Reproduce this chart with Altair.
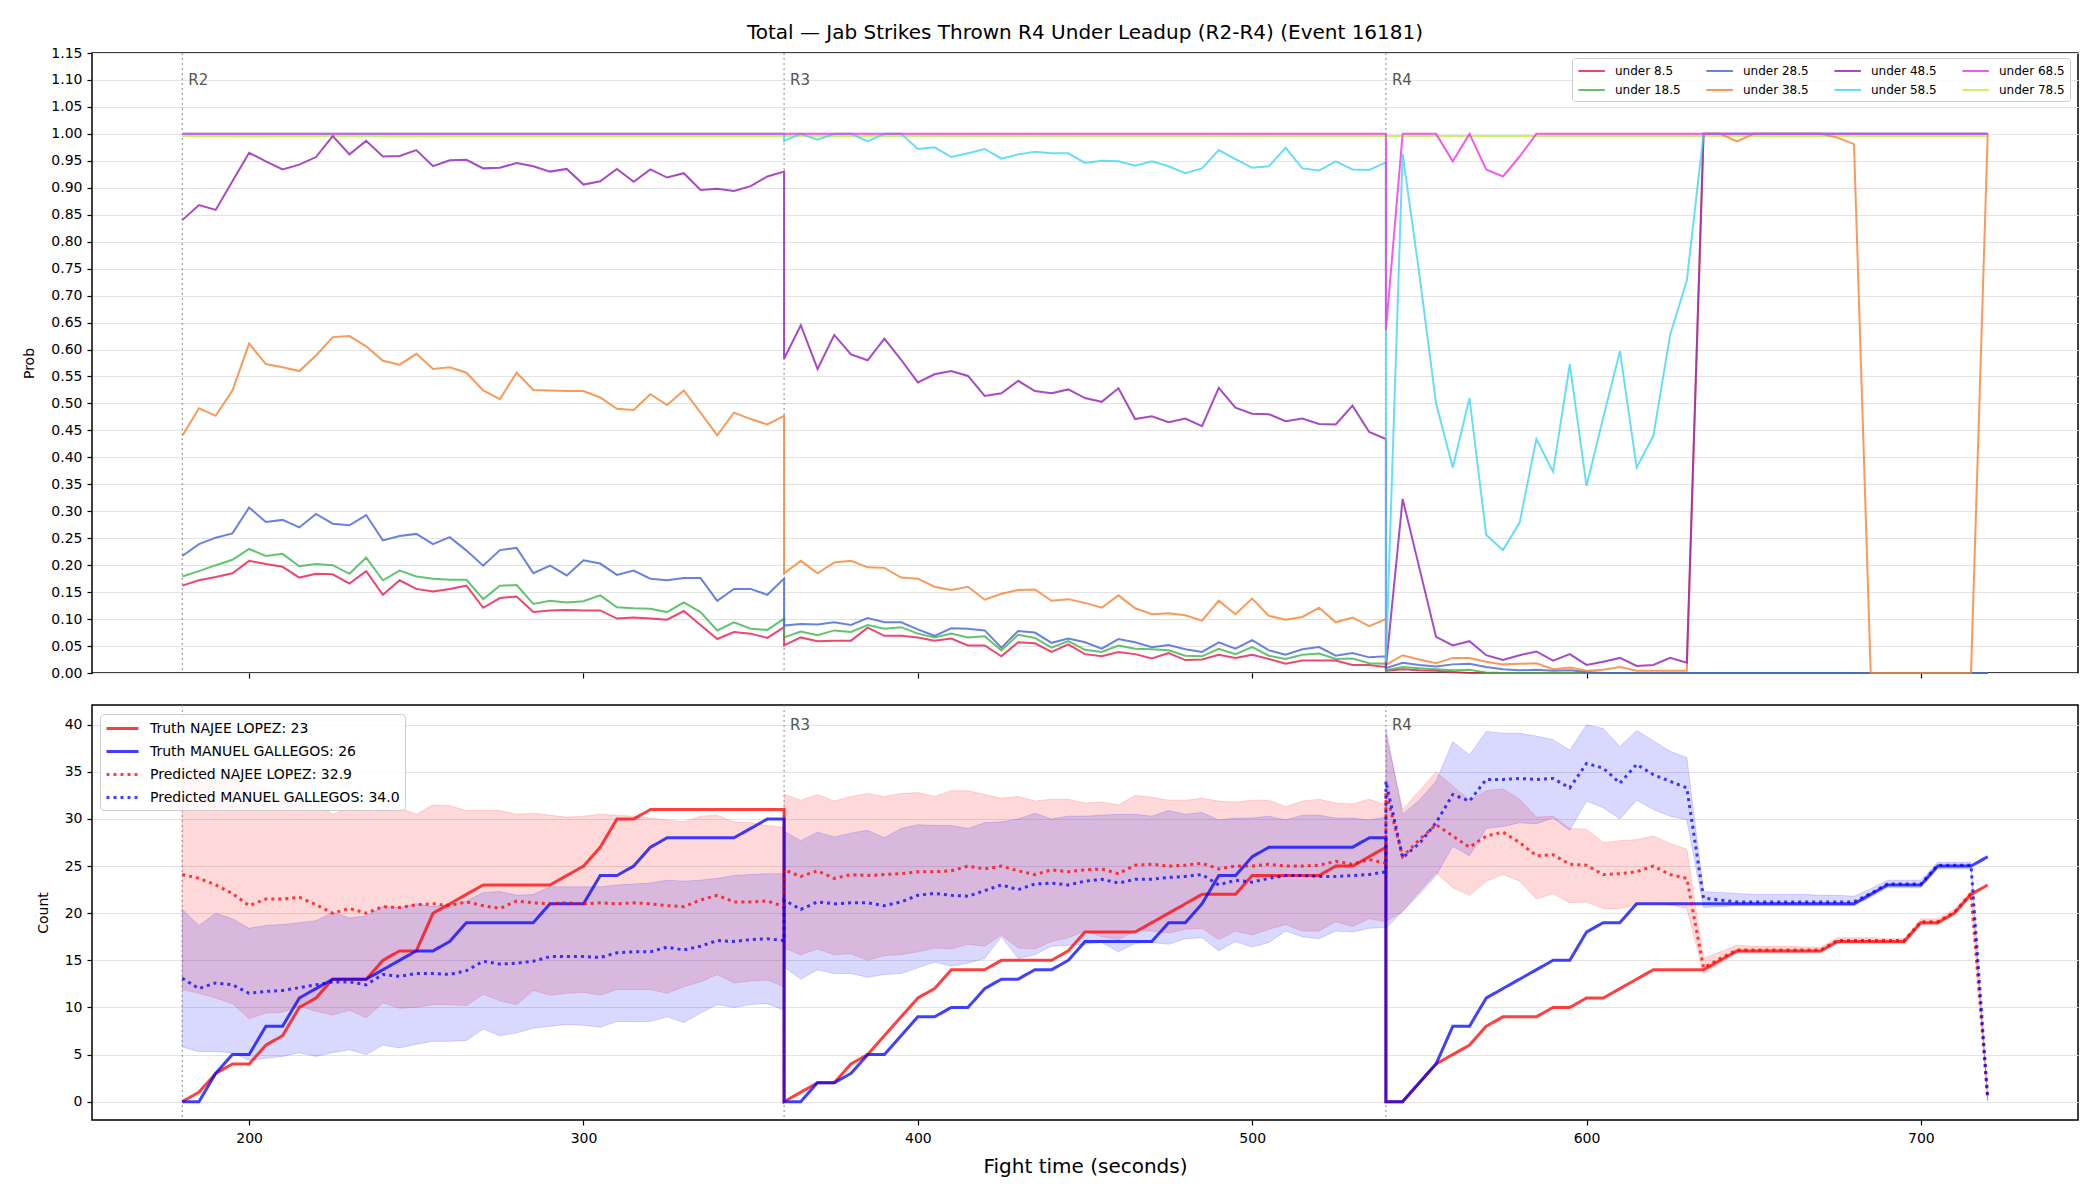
import altair as alt
import pandas as pd

# ---------------- sampling grid ----------------
OFFSETS = list(range(0, 185, 5))          # 37 samples per round (seconds into round)
ROUND_NAMES = ["R2", "R3", "R4"]
ROUND_STARTS = [180, 360, 540]
X_TICKS = [200, 300, 400, 500, 600, 700]
TOP_Y_TICKS = [0.0, 0.05, 0.10, 0.15, 0.20, 0.25, 0.30, 0.35, 0.40, 0.45, 0.50, 0.55,
               0.60, 0.65, 0.70, 0.75, 0.80, 0.85, 0.90, 0.95, 1.00, 1.05, 1.10, 1.15]
BOT_Y_TICKS = [0, 5, 10, 15, 20, 25, 30, 35, 40]

TITLE = "Total \u2014 Jab Strikes Thrown R4 Under Leadup (R2-R4) (Event 16181)"

# ---------------- top panel: probabilities ----------------
TOP_SERIES = ["under 8.5", "under 18.5", "under 28.5", "under 38.5",
              "under 48.5", "under 58.5", "under 68.5", "under 78.5"]
TOP_COLORS = ["#e6194b", "#3cb44b", "#4363d8", "#f58231",
              "#911eb4", "#42d4f4", "#f032e6", "#bfef45"]

U8_R2 = [0.162, 0.172, 0.178, 0.185, 0.208, 0.202, 0.197, 0.177, 0.184, 0.183,
         0.166, 0.189, 0.145, 0.172, 0.156, 0.151, 0.156, 0.162, 0.121, 0.139,
         0.142, 0.113, 0.116, 0.117, 0.116, 0.116, 0.101, 0.103, 0.101, 0.099,
         0.115, 0.089, 0.063, 0.076, 0.073, 0.065, 0.085]
U8_R3 = [0.051, 0.066, 0.059, 0.060, 0.060, 0.084, 0.069, 0.069, 0.066, 0.060,
         0.064, 0.051, 0.051, 0.031, 0.057, 0.055, 0.039, 0.053, 0.035, 0.031,
         0.039, 0.035, 0.027, 0.037, 0.024, 0.025, 0.034, 0.028, 0.034, 0.026,
         0.017, 0.023, 0.023, 0.023, 0.015, 0.015, 0.011]
U8_R4 = [0.004, 0.007, 0.005, 0.004, 0.002, 0.0, 0.0, 0.0, 0.0, 0.0,
         0.0, 0.0, 0.0, 0.0, 0.0, 0.0, 0.0, 0.0, 0.0, 0.0,
         0.0, 0.0, 0.0, 0.0, 0.0, 0.0, 0.0, 0.0, 0.0, 0.0,
         0.0, 0.0, 0.0, 0.0, 0.0, 0.0, 0.0]

U18_R2 = [0.179, 0.189, 0.200, 0.210, 0.230, 0.217, 0.221, 0.198, 0.202, 0.200,
          0.184, 0.214, 0.172, 0.190, 0.179, 0.175, 0.173, 0.173, 0.137, 0.162,
          0.163, 0.128, 0.134, 0.131, 0.133, 0.144, 0.122, 0.120, 0.119, 0.113,
          0.131, 0.113, 0.079, 0.094, 0.082, 0.080, 0.101]
U18_R3 = [0.066, 0.077, 0.070, 0.079, 0.076, 0.089, 0.082, 0.085, 0.073, 0.066,
          0.073, 0.066, 0.068, 0.042, 0.071, 0.065, 0.047, 0.059, 0.043, 0.039,
          0.051, 0.045, 0.044, 0.042, 0.032, 0.031, 0.045, 0.035, 0.048, 0.032,
          0.026, 0.034, 0.036, 0.026, 0.027, 0.018, 0.017]
U18_R4 = [0.005, 0.011, 0.009, 0.007, 0.005, 0.006, 0.001, 0.0, 0.0, 0.0,
          0.0, 0.0, 0.0, 0.0, 0.0, 0.0, 0.0, 0.0, 0.0, 0.0,
          0.0, 0.0, 0.0, 0.0, 0.0, 0.0, 0.0, 0.0, 0.0, 0.0,
          0.0, 0.0, 0.0, 0.0, 0.0, 0.0, 0.0]

U28_R2 = [0.217, 0.239, 0.251, 0.259, 0.307, 0.280, 0.284, 0.270, 0.295, 0.277,
          0.274, 0.293, 0.246, 0.254, 0.258, 0.239, 0.252, 0.227, 0.199, 0.228,
          0.232, 0.185, 0.199, 0.181, 0.209, 0.203, 0.182, 0.190, 0.175, 0.172,
          0.176, 0.176, 0.134, 0.156, 0.156, 0.145, 0.175]
U28_R3 = [0.088, 0.091, 0.090, 0.094, 0.089, 0.102, 0.094, 0.094, 0.081, 0.069,
          0.083, 0.082, 0.079, 0.047, 0.078, 0.075, 0.056, 0.064, 0.057, 0.045,
          0.063, 0.057, 0.048, 0.052, 0.044, 0.039, 0.057, 0.045, 0.061, 0.042,
          0.034, 0.044, 0.048, 0.032, 0.037, 0.029, 0.031]
U28_R4 = [0.009, 0.019, 0.015, 0.012, 0.016, 0.017, 0.011, 0.007, 0.005, 0.006,
          0.004, 0.005, 0.002, 0.0, 0.0, 0.0, 0.0, 0.0, 0.0, 0.0,
          0.0, 0.0, 0.0, 0.0, 0.0, 0.0, 0.0, 0.0, 0.0, 0.0,
          0.0, 0.0, 0.0, 0.0, 0.0, 0.0, 0.0]

U38_R2 = [0.440, 0.491, 0.477, 0.524, 0.611, 0.573, 0.567, 0.560, 0.589, 0.623,
          0.625, 0.606, 0.579, 0.572, 0.592, 0.564, 0.567, 0.557, 0.524, 0.508,
          0.557, 0.525, 0.524, 0.523, 0.523, 0.511, 0.490, 0.488, 0.517, 0.497,
          0.524, 0.483, 0.441, 0.483, 0.471, 0.461, 0.477]
U38_R3 = [0.185, 0.208, 0.185, 0.205, 0.208, 0.196, 0.195, 0.177, 0.175, 0.160,
          0.154, 0.160, 0.136, 0.147, 0.154, 0.155, 0.134, 0.137, 0.130, 0.121,
          0.144, 0.120, 0.109, 0.111, 0.107, 0.097, 0.134, 0.109, 0.138, 0.106,
          0.099, 0.104, 0.121, 0.094, 0.103, 0.087, 0.100]
U38_R4 = [0.015, 0.033, 0.025, 0.018, 0.028, 0.028, 0.021, 0.016, 0.017, 0.018,
          0.007, 0.010, 0.004, 0.006, 0.011, 0.004, 0.004, 0.004, 0.004, 1.0,
          1.0, 0.986, 1.0, 1.0, 1.0, 1.0, 1.0, 0.993, 0.981, 0.0,
          0.0, 0.0, 0.0, 0.0, 0.0, 0.0, 1.0]

U48_R2 = [0.840, 0.868, 0.859, 0.912, 0.965, 0.949, 0.934, 0.943, 0.957, 0.996,
          0.962, 0.987, 0.958, 0.959, 0.970, 0.940, 0.951, 0.952, 0.936, 0.937,
          0.946, 0.940, 0.930, 0.935, 0.906, 0.912, 0.935, 0.911, 0.934, 0.919,
          0.927, 0.896, 0.898, 0.894, 0.903, 0.921, 0.930]
U48_R3 = [0.583, 0.645, 0.564, 0.627, 0.591, 0.580, 0.620, 0.581, 0.539, 0.554,
          0.560, 0.551, 0.514, 0.519, 0.542, 0.523, 0.519, 0.526, 0.510, 0.503,
          0.528, 0.471, 0.476, 0.465, 0.472, 0.458, 0.529, 0.492, 0.481, 0.480,
          0.467, 0.472, 0.462, 0.461, 0.496, 0.447, 0.434]
U48_R4 = [0.010, 0.323, 0.195, 0.067, 0.051, 0.059, 0.033, 0.024, 0.033, 0.040,
          0.023, 0.035, 0.015, 0.021, 0.028, 0.013, 0.015, 0.028, 0.019, 1.0,
          1.0, 1.0, 1.0, 1.0, 1.0, 1.0, 1.0, 1.0, 1.0, 1.0,
          1.0, 1.0, 1.0, 1.0, 1.0, 1.0, 1.0]

U58_R2 = [1.0, 1.0, 1.0, 1.0, 1.0, 1.0, 1.0, 1.0, 1.0, 1.0,
          1.0, 1.0, 1.0, 1.0, 1.0, 1.0, 1.0, 1.0, 1.0, 1.0,
          1.0, 1.0, 1.0, 1.0, 1.0, 1.0, 1.0, 1.0, 1.0, 1.0,
          1.0, 1.0, 1.0, 1.0, 1.0, 1.0, 1.0]
U58_R3 = [0.987, 1.0, 0.989, 1.0, 1.0, 0.986, 1.0, 1.0, 0.972, 0.975,
          0.957, 0.964, 0.972, 0.954, 0.962, 0.967, 0.964, 0.964, 0.946, 0.950,
          0.949, 0.941, 0.949, 0.940, 0.927, 0.936, 0.970, 0.953, 0.937, 0.940,
          0.974, 0.936, 0.932, 0.949, 0.934, 0.933, 0.947]
U58_R4 = [0.020, 0.963, 0.740, 0.500, 0.381, 0.510, 0.256, 0.228, 0.279, 0.434,
          0.373, 0.573, 0.347, 0.474, 0.597, 0.381, 0.440, 0.627, 0.728, 1.0,
          1.0, 1.0, 1.0, 1.0, 1.0, 1.0, 1.0, 1.0, 1.0, 1.0,
          1.0, 1.0, 1.0, 1.0, 1.0, 1.0, 1.0]

U68_R2 = [1.0, 1.0, 1.0, 1.0, 1.0, 1.0, 1.0, 1.0, 1.0, 1.0,
          1.0, 1.0, 1.0, 1.0, 1.0, 1.0, 1.0, 1.0, 1.0, 1.0,
          1.0, 1.0, 1.0, 1.0, 1.0, 1.0, 1.0, 1.0, 1.0, 1.0,
          1.0, 1.0, 1.0, 1.0, 1.0, 1.0, 1.0]
U68_R3 = [1.0, 1.0, 1.0, 1.0, 1.0, 1.0, 1.0, 1.0, 1.0, 1.0,
          1.0, 1.0, 1.0, 1.0, 1.0, 1.0, 1.0, 1.0, 1.0, 1.0,
          1.0, 1.0, 1.0, 1.0, 1.0, 1.0, 1.0, 1.0, 1.0, 1.0,
          1.0, 1.0, 1.0, 1.0, 1.0, 1.0, 1.0]
U68_R4 = [0.636, 1.0, 1.0, 1.0, 0.949, 1.0, 0.934, 0.921, 0.958, 1.0,
          1.0, 1.0, 1.0, 1.0, 1.0, 1.0, 1.0, 1.0, 1.0, 1.0,
          1.0, 1.0, 1.0, 1.0, 1.0, 1.0, 1.0, 1.0, 1.0, 1.0,
          1.0, 1.0, 1.0, 1.0, 1.0, 1.0, 1.0]

U78_R2 = [0.996, 0.996, 0.996, 0.996, 0.996, 0.996, 0.996, 0.996, 0.996, 0.996,
          0.996, 0.996, 0.996, 0.996, 0.996, 0.996, 0.996, 0.996, 0.996, 0.996,
          0.996, 0.996, 0.996, 0.996, 0.996, 0.996, 0.996, 0.996, 0.996, 0.996,
          0.996, 0.996, 0.996, 0.996, 0.996, 0.996, 0.996]
U78_R3 = list(U78_R2)
U78_R4 = list(U78_R2)

TOP_DATA = {
    "under 8.5": (U8_R2, U8_R3, U8_R4),
    "under 18.5": (U18_R2, U18_R3, U18_R4),
    "under 28.5": (U28_R2, U28_R3, U28_R4),
    "under 38.5": (U38_R2, U38_R3, U38_R4),
    "under 48.5": (U48_R2, U48_R3, U48_R4),
    "under 58.5": (U58_R2, U58_R3, U58_R4),
    "under 68.5": (U68_R2, U68_R3, U68_R4),
    "under 78.5": (U78_R2, U78_R3, U78_R4),
}
# lime drawn first so the 1.00 plateau reads magenta/cyan on top, lime just beneath
DRAW_ORDER = ["under 78.5", "under 8.5", "under 18.5", "under 28.5", "under 38.5",
              "under 48.5", "under 58.5", "under 68.5"]

# ---------------- bottom panel: counts ----------------
LBL_TN = "Truth NAJEE LOPEZ: 23"
LBL_TM = "Truth MANUEL GALLEGOS: 26"
LBL_PN = "Predicted NAJEE LOPEZ: 32.9"
LBL_PM = "Predicted MANUEL GALLEGOS: 34.0"
BOT_SERIES = [LBL_TN, LBL_TM, LBL_PN, LBL_PM]

TRUTH_N_R2 = [0, 1, 3, 4, 4, 6, 7, 10, 11, 13, 13, 13, 15, 16, 16, 20, 21, 22, 23, 23,
              23, 23, 23, 24, 25, 27, 30, 30, 31, 31, 31, 31, 31, 31, 31, 31, 31]
TRUTH_N_R3 = [0, 1, 2, 2, 4, 5, 7, 9, 11, 12, 14, 14, 14, 15, 15, 15, 15, 16, 18, 18,
              18, 18, 19, 20, 21, 22, 22, 22, 24, 24, 24, 24, 24, 25, 25, 26, 27]
TRUTH_N_R4 = [0, 0, 2, 4, 5, 6, 8, 9, 9, 9, 10, 10, 11, 11, 12, 13, 14, 14, 14, 14,
              15, 16, 16, 16, 16, 16, 16, 17, 17, 17, 17, 17, 19, 19, 20, 22, 23]

TRUTH_M_R2 = [0, 0, 3, 5, 5, 8, 8, 11, 12, 13, 13, 13, 14, 15, 16, 16, 17, 19, 19, 19,
              19, 19, 21, 21, 21, 24, 24, 25, 27, 28, 28, 28, 28, 28, 29, 30, 30]
TRUTH_M_R3 = [0, 0, 2, 2, 3, 5, 5, 7, 9, 9, 10, 10, 12, 13, 13, 14, 14, 15, 17, 17,
              17, 17, 17, 19, 19, 21, 24, 24, 26, 27, 27, 27, 27, 27, 27, 28, 28]
TRUTH_M_R4 = [0, 0, 2, 4, 8, 8, 11, 12, 13, 14, 15, 15, 18, 19, 19, 21, 21, 21, 21, 21,
              21, 21, 21, 21, 21, 21, 21, 21, 21, 22, 23, 23, 23, 25, 25, 25, 26]

PRED_N_R2 = [24.1, 23.7, 23.0, 22.1, 20.8, 21.5, 21.5, 21.7, 20.9, 20.0,
             20.5, 20.0, 20.7, 20.6, 20.9, 21.0, 20.8, 21.2, 20.8, 20.5,
             21.3, 21.1, 21.0, 21.1, 21.0, 21.1, 21.0, 21.1, 21.0, 20.8,
             20.7, 21.4, 21.9, 21.2, 21.2, 21.3, 20.7]
PRED_N_R3 = [24.6, 23.9, 24.5, 23.7, 24.1, 24.0, 24.1, 24.2, 24.4, 24.4,
             24.5, 25.0, 24.7, 25.0, 24.5, 24.1, 24.6, 24.4, 24.6, 24.7,
             24.2, 25.1, 25.2, 25.0, 25.1, 25.3, 24.7, 25.0, 25.0, 25.2,
             25.0, 25.0, 25.1, 25.5, 25.2, 25.7, 25.3]
PRED_N_R4 = [32.9, 26.0, 27.8, 29.4, 28.2, 27.0, 28.2, 28.6, 27.5, 26.1,
             26.2, 25.2, 25.1, 24.1, 24.2, 24.4, 25.0, 24.1, 23.7, 14.2,
             15.2, 16.1, 16.1, 16.1, 16.1, 16.1, 16.1, 17.1, 17.1, 17.1,
             17.1, 17.1, 19.1, 19.1, 20.1, 22.1, 0.3]

PRED_M_R2 = [13.1, 12.0, 12.6, 12.4, 11.5, 11.7, 11.8, 12.1, 12.4, 12.7,
             12.7, 12.4, 13.5, 13.3, 13.6, 13.6, 13.5, 13.9, 14.9, 14.6,
             14.7, 14.9, 15.4, 15.4, 15.4, 15.3, 15.8, 15.9, 15.9, 16.4,
             16.1, 16.5, 17.1, 17.0, 17.2, 17.3, 17.1]
PRED_M_R3 = [21.4, 20.4, 21.2, 21.0, 21.1, 21.1, 20.8, 21.2, 21.9, 22.1,
             21.9, 21.8, 22.4, 23.0, 22.5, 23.1, 23.2, 23.0, 23.4, 23.6,
             23.2, 23.6, 23.6, 23.8, 23.9, 24.1, 23.0, 23.5, 23.3, 23.7,
             24.0, 24.0, 23.9, 23.9, 24.0, 24.1, 24.4]
PRED_M_R4 = [34.0, 25.9, 27.4, 29.6, 32.6, 31.9, 34.2, 34.2, 34.3, 34.2,
             34.3, 33.3, 35.9, 35.4, 33.8, 35.8, 34.7, 34.0, 33.3, 21.6,
             21.4, 21.2, 21.2, 21.2, 21.2, 21.2, 21.2, 21.2, 21.2, 22.1,
             23.1, 23.1, 23.1, 25.1, 25.1, 25.1, 0.3]

# prediction intervals
HI_N_R2 = [35.7, 35.2, 34.7, 34.2, 33.7, 33.2, 32.7, 32.2, 31.6, 30.5,
           31.2, 30.9, 31.0, 31.2, 30.5, 31.5, 31.4, 30.9, 30.9, 30.9,
           30.5, 30.6, 30.4, 30.2, 30.3, 30.5, 30.4, 30.3, 30.1, 29.9,
           29.7, 30.3, 30.4, 29.7, 29.6, 29.3, 29.1]
LO_N_R2 = [11.9, 11.5, 11.0, 10.4, 8.8, 9.4, 9.5, 10.1, 9.6, 9.2,
           9.7, 8.9, 10.5, 9.9, 10.0, 10.3, 10.3, 10.2, 11.4, 10.7,
           10.3, 11.8, 11.3, 11.5, 11.6, 11.3, 11.9, 11.9, 11.9, 11.5,
           12.2, 12.7, 13.5, 12.6, 12.8, 12.9, 12.2]
HI_N_R3 = [32.6, 32.0, 32.6, 31.9, 32.4, 32.7, 32.4, 32.7, 32.8, 32.4,
           33.0, 33.0, 32.6, 32.2, 32.4, 31.9, 32.1, 32.1, 31.7, 31.8,
           31.5, 32.5, 32.3, 32.0, 32.0, 32.2, 31.9, 31.8, 32.0, 32.0,
           31.3, 31.9, 32.1, 31.7, 31.6, 32.1, 31.5]
LO_N_R3 = [16.3, 15.6, 16.2, 15.6, 15.7, 15.0, 15.5, 15.6, 15.9, 16.3,
           16.2, 16.7, 16.5, 17.7, 16.3, 16.2, 17.0, 17.4, 18.1, 17.5,
           17.2, 18.1, 18.1, 17.9, 18.3, 18.4, 17.2, 18.1, 17.7, 18.3,
           18.8, 18.1, 18.1, 19.1, 18.6, 19.4, 19.1]
HI_N_R4 = [39.0, 31.0, 33.0, 35.0, 33.5, 32.0, 33.0, 33.2, 32.1, 30.2,
           30.3, 29.0, 28.9, 27.5, 27.7, 27.8, 28.2, 27.4, 26.8, 15.2,
           15.9, 16.6, 16.5, 16.5, 16.5, 16.4, 16.4, 17.4, 17.4, 17.4,
           17.3, 17.3, 19.4, 19.4, 20.4, 22.4, 0.5]
LO_N_R4 = [19.1, 20.2, 22.3, 24.3, 22.7, 21.9, 23.4, 24.1, 23.4, 21.5,
           22.1, 21.1, 21.2, 20.5, 20.5, 20.9, 21.1, 20.9, 20.5, 13.6,
           14.7, 15.8, 15.8, 15.8, 15.8, 15.8, 15.8, 16.8, 16.8, 16.8,
           16.8, 16.8, 18.8, 18.8, 19.8, 21.8, 0.1]

HI_M_R2 = [20.4, 18.7, 20.0, 19.4, 18.4, 18.7, 18.8, 19.0, 19.2, 20.1,
           19.5, 19.7, 20.7, 20.6, 21.0, 20.7, 20.9, 21.3, 22.2, 22.3,
           21.9, 22.0, 22.8, 22.8, 22.8, 22.8, 23.0, 23.1, 23.2, 23.5,
           23.4, 23.5, 23.7, 24.0, 24.1, 24.2, 24.2]
LO_M_R2 = [5.8, 5.3, 5.3, 5.2, 4.4, 4.6, 4.8, 5.2, 4.8, 5.2,
           5.5, 5.0, 6.0, 5.7, 6.1, 6.4, 6.4, 6.5, 7.7, 7.0,
           7.3, 7.8, 8.0, 8.2, 8.1, 7.9, 8.5, 8.5, 8.5, 9.0,
           8.4, 9.4, 10.3, 10.0, 10.3, 10.4, 9.7]
HI_M_R3 = [28.7, 27.7, 28.6, 28.1, 28.5, 28.8, 28.0, 29.0, 29.4, 29.3,
           29.3, 29.0, 29.6, 29.7, 30.0, 30.6, 30.0, 30.3, 30.3, 30.4,
           30.5, 30.5, 30.3, 30.9, 30.5, 30.7, 29.9, 30.1, 30.1, 30.3,
           29.9, 30.4, 30.4, 30.1, 30.1, 29.9, 30.2]
LO_M_R3 = [14.3, 13.0, 14.0, 13.6, 13.6, 13.2, 13.5, 13.6, 14.2, 14.8,
           14.4, 14.7, 15.2, 17.5, 15.2, 15.6, 16.5, 16.6, 16.7, 16.9,
           15.9, 16.8, 16.9, 16.7, 17.3, 17.4, 16.0, 17.0, 16.4, 16.9,
           18.1, 17.5, 17.3, 18.1, 18.0, 18.4, 18.5]
HI_M_R4 = [39.6, 30.5, 32.0, 34.0, 38.2, 36.8, 39.3, 39.1, 39.1, 38.8,
           38.4, 37.3, 40.0, 39.6, 37.7, 39.4, 38.3, 37.2, 36.5, 22.3,
           22.2, 22.1, 22.0, 22.0, 22.0, 22.0, 21.9, 21.9, 21.8, 22.6,
           23.5, 23.5, 23.5, 25.4, 25.4, 25.4, 0.5]
LO_M_R4 = [18.4, 20.2, 22.0, 24.0, 27.1, 26.1, 29.0, 29.2, 29.6, 29.5,
           30.1, 28.8, 31.9, 31.2, 30.0, 32.0, 31.0, 30.3, 29.9, 20.6,
           20.7, 20.8, 20.8, 20.8, 20.8, 20.8, 20.8, 20.8, 20.8, 21.7,
           22.7, 22.7, 22.7, 24.7, 24.7, 24.7, 0.1]

BOT_DATA = {
    LBL_TN: (TRUTH_N_R2, TRUTH_N_R3, TRUTH_N_R4),
    LBL_TM: (TRUTH_M_R2, TRUTH_M_R3, TRUTH_M_R4),
    LBL_PN: (PRED_N_R2, PRED_N_R3, PRED_N_R4),
    LBL_PM: (PRED_M_R2, PRED_M_R3, PRED_M_R4),
}
BAND_DATA = {
    "NAJEE": ((LO_N_R2, HI_N_R2), (LO_N_R3, HI_N_R3), (LO_N_R4, HI_N_R4)),
    "MANUEL": ((LO_M_R2, HI_M_R2), (LO_M_R3, HI_M_R3), (LO_M_R4, HI_M_R4)),
}

# ---------------- build tables ----------------
def check(vals, name):
    assert len(vals) == len(OFFSETS), (name, len(vals))

top_rows = []
for name in DRAW_ORDER:
    i = 0
    for rnd, start, vals in zip(ROUND_NAMES, ROUND_STARTS, TOP_DATA[name]):
        check(vals, name + rnd)
        for off, v in zip(OFFSETS, vals):
            top_rows.append({"series": name, "t": start + off, "p": v, "idx": i})
            i += 1
top_df = pd.DataFrame(top_rows)

bot_rows = []
for name in BOT_SERIES:
    i = 0
    for rnd, start, vals in zip(ROUND_NAMES, ROUND_STARTS, BOT_DATA[name]):
        check(vals, name + rnd)
        for off, v in zip(OFFSETS, vals):
            bot_rows.append({"label": name, "t": start + off, "c": v, "idx": i})
            i += 1
bot_df = pd.DataFrame(bot_rows)

band_rows = []
for fighter, rounds in BAND_DATA.items():
    for rnd, start, (lo, hi) in zip(ROUND_NAMES, ROUND_STARTS, rounds):
        check(lo, fighter + rnd + "lo")
        check(hi, fighter + rnd + "hi")
        for off, a, b in zip(OFFSETS, lo, hi):
            band_rows.append({"fighter": fighter, "round": rnd, "t": start + off, "lo": a, "hi": b})
band_df = pd.DataFrame(band_rows)

round_df = pd.DataFrame({"t": ROUND_STARTS, "label": ROUND_NAMES})

# ---------------- shared scales / axes ----------------
FONT = "DejaVu Sans"
W = 1986
x_scale = alt.Scale(domain=[153, 747], nice=False, zero=False)
LINE_SWATCH = "M-1,0H3"   # legend swatch: a horizontal stroke starting at the entry's left edge

# ---------------- top chart ----------------
top_x = alt.X("t:Q", scale=x_scale,
              axis=alt.Axis(values=X_TICKS, labels=False, title=None, grid=False))
top_y_axis = alt.Axis(values=TOP_Y_TICKS, format=".2f", title="Prob", grid=True,
                      labelOverlap=False, tickCount=40)
top_y_scale = alt.Scale(domain=[0, 1.15], nice=False, zero=False)

top_lines = alt.Chart(top_df).mark_line(strokeWidth=2, opacity=0.8).encode(
    x=top_x,
    y=alt.Y("p:Q", scale=top_y_scale, axis=top_y_axis),
    color=alt.Color("series:N",
                    scale=alt.Scale(domain=TOP_SERIES, range=TOP_COLORS),
                    legend=alt.Legend(title=None, orient="none", legendX=1480, legendY=5,
                                      columns=4, symbolType=LINE_SWATCH, symbolSize=176,
                                      symbolStrokeWidth=2, symbolOpacity=0.8,
                                      labelFontSize=12, labelFont=FONT, labelOffset=22,
                                      columnPadding=21, rowPadding=5, padding=5,
                                      strokeColor="#cccccc", fillColor="rgba(255,255,255,0.8)",
                                      cornerRadius=3)),
    order=alt.Order("idx:Q"),
)

top_rules = alt.Chart(round_df).mark_rule(color="#888888", strokeDash=[2, 3], strokeWidth=1).encode(
    x=alt.X("t:Q", scale=x_scale)
)
top_text = alt.Chart(round_df).mark_text(align="left", baseline="middle", dx=6, fontSize=15,
                                         font=FONT, color="#555555").encode(
    x=alt.X("t:Q", scale=x_scale),
    y=alt.YDatum(1.10, scale=top_y_scale, axis=top_y_axis),
    text="label:N",
)

top = alt.layer(top_rules, top_lines, top_text).properties(
    width=W, height=620,
    title=alt.TitleParams(text=TITLE, fontSize=20, font=FONT, fontWeight="normal",
                          anchor="middle", frame="group", offset=3, color="#000000"),
)

# ---------------- bottom chart ----------------
bot_x = alt.X("t:Q", scale=x_scale,
              axis=alt.Axis(values=X_TICKS, format="d", title="Fight time (seconds)",
                            titleFontSize=20, grid=False, labelPadding=6, titlePadding=11))
bot_y_scale = alt.Scale(domain=[-1.95, 42.1], nice=False, zero=False)
bot_y_axis = alt.Axis(values=BOT_Y_TICKS, title="Count", grid=True, labelOverlap=False,
                      tickCount=20)

band_red = alt.Chart(band_df).transform_filter(alt.datum.fighter == "NAJEE").mark_area(
    fill="red", fillOpacity=0.15, stroke="red", strokeOpacity=0.15, strokeWidth=1
).encode(
    x=bot_x,
    y=alt.Y("lo:Q", scale=bot_y_scale, axis=bot_y_axis),
    y2="hi:Q",
    detail="round:N",
)
band_blue = alt.Chart(band_df).transform_filter(alt.datum.fighter == "MANUEL").mark_area(
    fill="blue", fillOpacity=0.15, stroke="blue", strokeOpacity=0.15, strokeWidth=1
).encode(
    x=bot_x,
    y=alt.Y("lo:Q", scale=bot_y_scale, axis=bot_y_axis),
    y2="hi:Q",
    detail="round:N",
)

bot_legend = alt.Legend(title=None, orient="none", legendX=8, legendY=9,
                        symbolType=LINE_SWATCH, symbolSize=256, symbolStrokeWidth=3,
                        symbolOpacity=0.75, labelFontSize=14, labelFont=FONT,
                        labelOffset=26, labelLimit=400, rowPadding=6, padding=5,
                        strokeColor="#cccccc", fillColor="rgba(255,255,255,0.8)",
                        cornerRadius=4)

bot_lines = alt.Chart(bot_df).mark_line(strokeWidth=3, strokeCap="butt").encode(
    x=bot_x,
    y=alt.Y("c:Q", scale=bot_y_scale, axis=bot_y_axis),
    color=alt.Color("label:N", scale=alt.Scale(domain=BOT_SERIES,
                                               range=["#ff0000", "#0000ff", "#ff0000", "#0000ff"]),
                    legend=bot_legend),
    strokeDash=alt.StrokeDash("label:N", scale=alt.Scale(domain=BOT_SERIES,
                                                         range=[[1, 0], [1, 0], [3, 4], [3, 4]]),
                              legend=bot_legend),
    opacity=alt.Opacity("label:N", scale=alt.Scale(domain=BOT_SERIES, range=[0.75, 0.75, 0.6, 0.6]),
                        legend=None),
    order=alt.Order("idx:Q"),
)

bot_rules = alt.Chart(round_df).mark_rule(color="#888888", strokeDash=[2, 3], strokeWidth=1).encode(
    x=alt.X("t:Q", scale=x_scale)
)
bot_text = alt.Chart(round_df).transform_filter(alt.datum.label != "R2").mark_text(
    align="left", baseline="middle", dx=6, fontSize=15, font=FONT, color="#555555"
).encode(
    x=alt.X("t:Q", scale=x_scale),
    y=alt.YDatum(40, scale=bot_y_scale, axis=bot_y_axis),
    text="label:N",
)

bottom = alt.layer(band_red, band_blue, bot_rules, bot_lines, bot_text).properties(
    width=W, height=415
)

chart = alt.vconcat(top, bottom, spacing=22).resolve_scale(
    color="independent", strokeDash="independent", opacity="independent", y="independent"
).properties(
    padding={"left": 22, "top": 22, "right": 10, "bottom": 5}
).configure(font=FONT).configure_view(
    stroke="#000000", strokeWidth=1.5
).configure_axis(
    labelFont=FONT, titleFont=FONT, labelFontSize=14, titleFontSize=14,
    titleFontWeight="normal", labelColor="#000000", titleColor="#000000",
    tickColor="#000000", tickWidth=1.2, tickSize=5, labelPadding=5,
    domain=False, gridColor="#e3e3e3", gridWidth=1, titlePadding=14, labelOverlap=False
)

chart.save("out.html", embed_options={"renderer": "svg", "actions": False})
